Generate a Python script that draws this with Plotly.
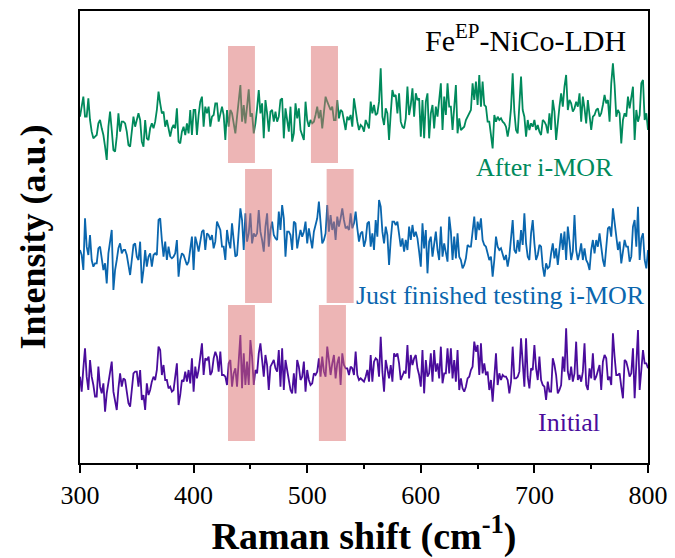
import plotly.graph_objects as go

# Raman shift axis
shift_start = 300.0
shift_end = 800.0

after_imor = [
    200,235,260,200,200,255,190,155,135,140,
    145,180,190,165,145,110,70,170,215,160,
    100,95,140,210,155,185,185,180,155,115,
    110,155,200,170,190,210,190,125,110,190,
    135,130,165,180,165,185,220,275,240,210,
    215,170,190,160,140,165,175,165,225,125,
    120,155,170,145,180,150,220,145,220,220,
    145,205,245,260,170,230,210,230,170,200,
    205,240,240,185,210,230,205,130,220,170,
    220,210,180,150,200,240,295,185,235,180,
    235,282,200,210,150,180,225,280,
    210,240,135,250,210,155,215,220,185,215,
    185,200,250,255,135,225,190,155,230,125,
    150,240,195,225,160,145,130,245,190,170,
    190,180,185,205,230,195,220,165,220,260,
    245,235,220,230,190,190,250,195,220,215,
    185,160,200,190,205,170,255,210,185,160,
    175,170,155,190,175,165,245,210,235,205,
    210,245,345,200,175,225,210,130,210,280,
    260,265,210,270,185,170,165,195,290,205,
    235,285,200,270,250,255,140,250,135,245,
    270,135,210,235,165,230,200,250,300,160,
    260,205,300,230,
    230,160,225,295,150,195,160,165,170,190,
    200,215,220,300,250,305,235,325,230,305,
    235,230,185,185,145,105,205,185,200,190,
    195,185,180,170,140,170,225,330,215,160,
    150,255,320,220,200,140,190,160,180,170,
    190,160,175,155,145,190,185,175,150,210,
    160,250,215,130,190,230,270,230,290,325,
    220,250,240,215,225,245,230,270,185,260,
    225,180,250,195,160,200,205,220,225,200,
    210,235,265,240,250,185,300,360,295,200,
    220,210,120,190,210,200,260,225,260,290,
    130,220,185,205,300,310,190,210,160,
]

just_finished = [
    130,115,70,225,140,115,175,100,80,90,
    90,135,140,110,70,90,30,120,155,190,
    10,70,100,135,150,120,130,130,115,90,
    55,100,145,150,110,100,155,30,70,130,
    80,110,120,80,115,120,115,220,225,160,
    110,155,100,140,110,105,110,120,160,50,
    100,120,115,100,85,95,135,170,70,170,
    150,125,155,185,190,130,180,175,160,175,
    135,155,215,200,190,140,140,100,190,155,
    135,210,160,110,115,195,255,220,130,240,
    155,180,240,150,180,170,180,250,
    185,160,125,200,240,140,190,215,175,165,
    160,245,190,265,225,110,185,185,175,130,
    215,210,135,165,190,170,185,215,150,195,
    170,135,185,205,225,275,205,150,160,180,
    265,185,235,190,215,160,230,200,225,255,
    220,195,200,190,240,195,210,245,195,155,
    180,185,140,160,210,215,140,180,130,220,
    170,280,260,185,150,200,175,85,160,215,
    215,205,215,175,140,165,125,160,130,200,
    160,205,170,185,165,125,80,210,135,190,
    60,155,170,110,150,185,130,100,200,110,
    150,115,95,230,
    185,100,170,105,180,110,100,75,85,105,
    145,140,140,185,230,160,215,190,225,160,
    145,140,120,100,110,50,100,170,140,130,
    135,120,100,115,80,110,155,220,130,120,
    160,125,190,145,240,150,110,100,180,220,
    150,100,115,145,140,80,50,90,75,80,
    120,150,105,135,85,145,180,130,185,100,
    200,155,100,125,235,130,100,120,150,100,
    135,100,90,70,130,160,120,160,140,180,
    135,100,80,150,195,200,170,255,215,170,
    130,155,90,125,160,140,140,95,110,200,
    220,140,260,100,165,180,100,75,130,
]

initial = [
    200,155,225,285,200,160,250,200,175,140,
    140,230,170,150,180,95,150,185,210,245,
    155,130,100,165,210,170,195,190,150,120,
    110,160,210,215,215,170,220,130,145,100,
    180,145,160,185,200,190,220,290,280,205,
    235,190,190,165,170,155,160,200,240,115,
    145,190,185,215,185,220,180,255,155,230,
    195,220,260,300,205,255,250,260,205,215,
    255,275,260,215,275,205,205,200,175,240,
    250,170,210,225,170,250,325,165,270,175,
    245,175,310,260,175,220,210,270,
    300,250,200,265,235,160,230,240,250,225,
    215,280,170,285,160,250,215,190,160,150,
    210,150,250,230,190,200,245,155,220,190,
    175,180,210,205,215,255,200,260,215,200,
    290,250,205,240,265,195,240,260,175,270,
    235,225,225,205,230,225,205,275,205,190,
    195,190,185,200,220,185,265,185,245,255,
    250,200,320,215,155,250,220,195,235,185,
    270,260,270,240,190,200,215,210,295,195,
    265,235,255,265,225,205,170,280,150,250,
    200,210,270,185,280,215,240,195,290,180,
    210,210,285,210,
    285,195,250,185,280,160,195,165,155,170,
    195,200,220,230,305,275,295,205,300,210,
    240,205,215,160,190,125,185,270,175,210,
    190,205,200,200,190,150,185,290,195,195,
    200,215,315,245,170,315,200,165,225,220,
    295,225,190,260,190,175,170,130,185,155,
    155,255,235,205,150,160,175,260,215,345,
    215,190,230,185,210,305,190,205,185,215,
    300,175,160,225,195,270,190,200,215,235,
    160,245,265,255,190,200,175,330,260,205,
    205,210,170,135,250,245,225,200,210,285,
    135,220,340,160,230,280,240,240,225,
]

series_names = ["After i-MOR", "Just finished testing i-MOR", "Initial"]
series_values = [after_imor, just_finished, initial]
series_offsets = [839, 509, 59]
series_colors = ["#008a5c", "#0a66ae", "#4a0c9c"]

# highlighted bands (cm-1) and their vertical extent (stacked a.u.) per spectrum
band_ranges = [
    [(430.3, 454.0), (503.3, 527.1)],
    [(445.3, 469.0), (517.1, 540.9)],
    [(430.3, 454.0), (510.3, 534.1)],
]
band_heights = [(900, 1251), (480, 882), (66, 474)]

label_pos = [(709, 888), (670.5, 504), (730.5, 123)]

fig = go.Figure()
for name, vals, off, col in zip(series_names, series_values, series_offsets, series_colors):
    n = len(vals)
    xs = [shift_start + (shift_end - shift_start) * i / (n - 1) for i in range(n)]
    fig.add_trace(go.Scatter(
        x=xs, y=[v + off for v in vals], mode="lines",
        line=dict(color=col, width=1.8), name=name, showlegend=False,
    ))

for bands, (y0, y1) in zip(band_ranges, band_heights):
    for (x0, x1) in bands:
        fig.add_shape(type="rect", xref="x", yref="y", x0=x0, x1=x1, y0=y0, y1=y1,
                      fillcolor="rgba(219,107,107,0.5)", line=dict(width=0),
                      layer="above")

for name, (lx, ly), col in zip(series_names, label_pos, series_colors):
    fig.add_annotation(x=lx, y=ly, xref="x", yref="y", text=name, showarrow=False,
                       font=dict(family="Liberation Serif", size=26, color=col))

fig.add_annotation(x=692.6, y=1275, xref="x", yref="y",
                   text="Fe<sup>EP</sup>-NiCo-LDH", showarrow=False,
                   font=dict(family="Liberation Serif", size=30, color="black"))

fig.update_layout(
    template="none",
    width=675, height=558,
    margin=dict(l=80, r=27, t=11, b=95),
    paper_bgcolor="white", plot_bgcolor="white",
    font=dict(family="Liberation Serif", color="black"),
    xaxis=dict(
        automargin=False,
        range=[300, 800], dtick=100, tick0=300,
        showline=True, linecolor="black", linewidth=1.5, mirror=True,
        ticks="outside", ticklen=8, tickwidth=1.5, tickcolor="black",
        minor=dict(dtick=50, ticks="outside", ticklen=4, tickwidth=1.5, tickcolor="black"),
        showgrid=False, zeroline=False,
        tickfont=dict(family="Liberation Serif", size=26, color="black"),
        title=dict(text="<b>Raman shift (cm<sup>-1</sup>)</b>",
                   font=dict(family="Liberation Serif", size=38, color="black"),
                   standoff=4),
    ),
    yaxis=dict(
        automargin=False,
        range=[0, 1356],
        showline=True, linecolor="black", linewidth=1.5, mirror=True,
        ticks="", showticklabels=False, showgrid=False, zeroline=False,
        title=dict(text="<b>Intensity (a.u.)</b>",
                   font=dict(family="Liberation Serif", size=36, color="black"),
                   standoff=22),
    ),
)

fig.write_html("out.html")
